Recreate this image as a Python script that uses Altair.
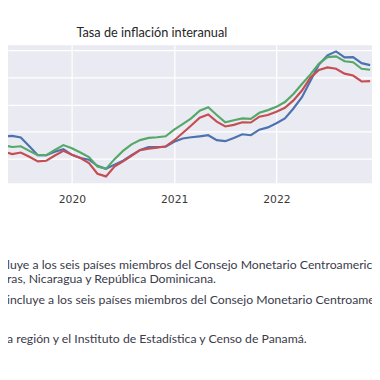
import altair as alt
import pandas as pd

# Monthly observations, April 2019 - December 2022
meses = pd.date_range("2019-04-01", "2022-12-01", freq="MS").strftime("%Y-%m").tolist()

serie_azul = [3.64, 3.64, 3.67, 3.55, 2.90, 2.24, 2.24, 2.49, 2.68,
              2.27, 2.03, 1.91, 1.45, 1.23, 1.54, 1.83, 2.24, 2.63, 2.85, 2.85, 2.87,
              3.23, 3.48, 3.57, 3.64, 3.72, 3.36, 3.28, 3.52, 3.79, 3.72, 4.13, 4.30,
              4.61, 4.97, 5.70, 6.54, 7.75, 8.96, 9.64, 9.93, 9.49, 9.51, 9.06, 8.91]
serie_verde = [2.97, 2.97, 2.85, 2.90, 2.56, 2.24, 2.24, 2.63, 2.99,
               2.75, 2.44, 2.10, 1.40, 1.23, 1.95, 2.56, 3.04, 3.36, 3.52, 3.57, 3.64,
               4.13, 4.54, 4.97, 5.53, 5.79, 5.22, 4.68, 4.83, 4.97, 4.93, 5.38, 5.58,
               5.82, 6.18, 6.78, 7.51, 8.23, 9.03, 9.51, 9.56, 9.20, 9.13, 8.64, 8.57]
serie_roja = [2.56, 2.51, 2.32, 2.44, 2.12, 1.78, 1.83, 2.22, 2.56,
              2.27, 2.03, 1.66, 0.87, 0.67, 1.40, 1.78, 2.20, 2.61, 2.73, 2.80, 2.90,
              3.33, 3.89, 4.44, 5.02, 5.26, 4.73, 4.37, 4.49, 4.68, 4.66, 5.09, 5.22,
              5.46, 5.75, 6.30, 7.03, 7.99, 8.55, 8.74, 8.64, 8.28, 8.14, 7.70, 7.73]

nombres = ["Serie 1", "Serie 2", "Serie 3"]
colores = ["#4C72B0", "#55A868", "#C44E52"]
anios_eje = [2020, 2021, 2022, 2023]
valores_y = [2, 4, 6, 8, 10]

titulo = "Tasa de inflación interanual"
notas = [
    "luye a los seis países miembros del Consejo Monetario Centroamericano",
    "ras, Nicaragua y República Dominicana.",
    "incluye a los seis países miembros del Consejo Monetario Centroamericano",
    "a región y el Instituto de Estadística y Censo de Panamá.",
]

filas = []
for nombre, serie in zip(nombres, [serie_azul, serie_verde, serie_roja]):
    for m, v in zip(meses, serie):
        y, mo = m.split("-")
        filas.append({"serie": nombre, "t": int(y) + (int(mo) - 1) / 12, "valor": v})
df = pd.DataFrame(filas)

lineas = alt.Chart(df).mark_line(strokeWidth=2.2, clip=True).encode(
    x=alt.X("t:Q", scale=alt.Scale(domain=[2019.375, 2022.935], nice=False, zero=False),
            axis=alt.Axis(values=anios_eje, format="d", title=None, grid=True,
                          ticks=False, domain=False, labelPadding=11,
                          labelFontSize=11, labelColor="#3a3a3a", labelFont="DejaVu Sans")),
    y=alt.Y("valor:Q", scale=alt.Scale(domain=[0.17, 10.39], nice=False, zero=False),
            axis=alt.Axis(values=valores_y, labels=False, ticks=False, domain=False,
                          title=None, grid=True)),
    color=alt.Color("serie:N", scale=alt.Scale(domain=nombres, range=colores), legend=None),
    order=alt.value(0),
)

capas = [lineas]
capas.append(
    alt.Chart(pd.DataFrame({"texto": [titulo]})).mark_text(
        align="center", baseline="middle", fontSize=13, font="Lato", color="#262626"
    ).encode(text="texto:N", x=alt.value(147), y=alt.value(-12))
)
pos_notas = [225, 239, 260, 300]
for txt, py in zip(notas, pos_notas):
    capas.append(
        alt.Chart(pd.DataFrame({"texto": [txt]})).mark_text(
            align="left", baseline="middle", fontSize=12.5, font="Lato", color="#3b3b4a"
        ).encode(text="texto:N", x=alt.value(-1), y=alt.value(py))
    )

chart = alt.layer(*capas).properties(
    width=372, height=141,
    autosize=alt.AutoSizeParams(type="none"),
    padding={"left": 0, "top": 34, "right": 0, "bottom": 189},
    background="white",
).configure_view(fill="#EAEAF2", stroke=None).configure_axis(
    gridColor="white", gridWidth=1.3
)

chart.save("out.html", embed_options={"renderer": "svg", "actions": False})
